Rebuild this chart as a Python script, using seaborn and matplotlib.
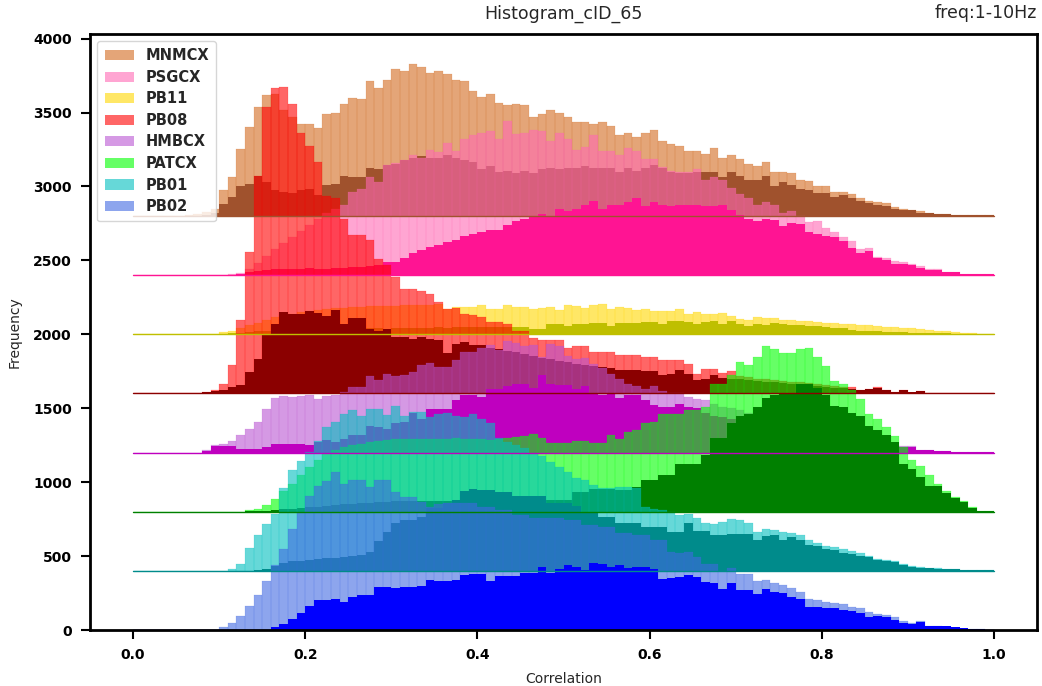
import matplotlib
matplotlib.use("Agg")
import numpy as np
import pandas as pd
import seaborn as sns
import matplotlib.pyplot as plt
import matplotlib.transforms as mtransforms
from matplotlib.patches import Patch

# ---------------- data (counts per 0.01-wide bin, 0..1) ----------------
stations = ["MNMCX", "PSGCX", "PB11", "PB08", "HMBCX", "PATCX", "PB01", "PB02"]
light_colors = ["chocolate", "hotpink", "gold", "red", "mediumorchid", "lime", "c", "royalblue"]
dark_colors = ["sienna", "deeppink", "y", "darkred", "m", "green", "darkcyan", "blue"]
offsets = [2800, 2400, 2000, 1600, 1200, 800, 400, 0]

mnmcx_all = [0,0,0,0,0,0,5,12,25,50,
             173,263,454,600,741,822,826,714,668,624,
             624,597,687,698,759,799,793,916,867,923,
             995,984,1029,1011,968,984,961,921,916,849,
             804,826,768,754,761,748,673,687,720,696,
             673,639,639,626,639,612,545,565,538,565,
             579,511,484,477,437,437,423,457,396,416,
             383,349,336,363,295,295,288,241,234,200,
             200,166,166,146,119,105,92,85,58,45,
             38,31,24,11,11,4,4,4,4,4]
mnmcx_sel = [0,0,0,0,0,0,0,0,5,20,
             83,132,200,218,274,230,178,166,157,178,
             185,140,207,218,274,263,263,326,315,342,
             353,376,391,403,394,394,410,390,376,365,
             320,336,295,308,288,308,288,315,328,315,
             328,328,336,328,328,328,295,322,308,328,
             342,328,295,288,288,295,295,295,261,295,
             274,241,241,268,200,227,213,186,173,153,
             153,126,140,119,105,85,78,65,51,38,
             38,24,18,11,11,4,4,4,4,4]
psgcx_all = [0,0,0,0,0,0,0,0,0,0,
             0,5,15,40,80,130,180,220,260,300,
             340,380,420,450,472,566,580,663,630,742,
             760,780,810,791,848,832,893,843,918,951,
             963,972,924,1046,958,965,979,972,911,965,
             924,850,870,951,843,843,816,857,843,783,
             783,729,708,701,695,715,647,661,641,587,
             546,519,472,492,478,424,431,400,357,364,
             316,289,255,228,174,181,120,113,93,86,
             73,59,39,39,19,19,5,5,5,5]
psgcx_sel = [0,0,0,0,0,0,0,0,0,0,
             0,3,10,20,30,35,40,45,45,45,
             50,45,45,50,50,55,55,60,70,89,
             89,117,149,172,190,201,224,240,262,280,
             290,303,303,337,364,377,397,411,397,445,
             431,451,472,505,451,472,472,492,519,465,
             492,478,465,472,478,478,465,465,472,438,
             404,377,364,377,370,330,350,343,289,282,
             262,255,228,181,147,161,113,100,79,79,
             66,52,32,32,19,19,5,5,5,5]
pb11_all = [0,0,0,0,0,0,0,0,0,5,
            15,22,40,60,80,100,115,130,140,150,
            160,165,170,175,180,185,185,190,190,195,
            195,200,200,200,200,203,169,185,185,185,
            196,174,174,196,185,185,169,177,185,162,
            196,190,177,196,203,174,185,177,165,174,
            155,155,155,169,140,149,140,135,142,122,
            106,95,117,108,110,100,95,92,88,85,
            80,76,72,68,64,60,56,52,48,44,
            40,35,30,25,20,15,10,6,3,1]
pb11_sel = [0,0,0,0,0,0,0,0,0,0,
            5,8,12,16,20,24,28,30,32,34,
            36,36,38,38,40,40,40,42,40,39,
            42,40,44,42,45,49,46,50,49,49,
            49,49,49,49,49,49,38,38,68,68,
            56,68,68,77,77,53,77,77,77,81,
            81,72,88,88,81,72,81,88,72,88,
            68,56,72,63,77,70,65,60,58,55,
            50,45,40,30,25,22,20,18,15,13,
            10,9,8,7,6,5,4,3,2,2]
pb08_all = [0,0,0,0,0,0,0,0,8,22,
            67,190,494,956,1474,1936,2065,2071,1956,1760,
            1677,1565,1339,1323,1182,1069,1069,1035,911,866,
            787,709,704,690,675,620,574,581,540,528,
            517,481,481,472,423,423,373,359,359,359,
            310,319,319,281,281,281,258,258,258,247,
            247,224,224,224,201,134,163,163,136,150,
            120,110,100,95,90,85,80,75,70,62,
            55,50,46,42,22,30,42,25,10,22,
            5,15,3,3,3,3,3,3,3,3]
pb08_sel = [0,0,0,0,0,0,0,0,8,19,
            22,45,56,146,231,400,468,551,540,535,
            555,544,522,562,468,510,510,434,423,439,
            382,382,371,382,366,359,274,332,345,326,
            326,310,300,290,280,270,255,240,230,220,
            210,200,195,185,180,172,157,157,157,150,
            150,123,134,157,134,89,96,123,105,100,
            95,90,85,80,75,70,65,60,55,50,
            45,40,35,29,22,29,40,22,13,22,
            8,15,2,2,2,2,2,2,2,2]
hmbcx_all = [0,0,0,0,0,0,0,0,16,50,
             57,77,118,158,205,293,367,381,374,381,
             388,361,381,388,410,445,445,519,489,534,
             519,525,546,590,606,579,579,629,681,681,
             710,726,695,752,743,720,726,647,732,719,
             651,631,640,601,572,534,496,467,449,433,
             449,419,401,401,377,365,356,330,310,300,
             290,270,250,240,220,200,180,165,150,140,
             125,115,100,90,80,70,60,55,50,43,
             43,16,16,12,12,5,5,5,5,5]
hmbcx_sel = [0,0,0,0,0,0,0,0,11,43,
             43,43,23,23,23,36,57,57,57,61,
             50,72,84,72,90,118,118,178,174,163,
             200,208,268,230,298,298,298,354,388,388,
             377,429,429,451,467,467,438,526,467,456,
             456,433,449,401,388,401,372,388,388,354,
             320,309,309,327,309,300,265,250,240,225,
             210,195,180,165,150,140,130,120,110,100,
             90,80,72,65,58,50,45,40,39,39,
             39,16,16,12,12,5,5,5,5,5]
patcx_all = [0,0,0,0,0,0,0,0,0,0,
             0,0,0,11,18,45,85,139,187,247,
             304,349,398,420,440,450,460,470,480,485,
             490,490,495,490,495,490,495,500,495,490,
             490,485,490,500,505,510,524,500,468,468,
             468,477,477,468,468,518,495,540,551,601,
             608,659,659,659,686,686,709,867,867,923,
             1011,991,1045,1119,1099,1072,1072,1099,1105,1045,
             984,882,862,822,761,659,626,572,511,435,
             349,308,247,187,137,101,70,30,6,3]
patcx_sel = [0,0,0,0,0,0,0,0,0,0,
             0,0,0,3,5,8,12,16,20,25,
             30,35,40,45,50,55,60,62,65,68,
             70,70,72,72,75,75,75,78,78,78,
             78,78,78,78,78,78,78,78,78,78,
             78,135,135,157,157,157,145,145,170,214,
             214,247,247,326,326,326,382,500,500,601,
             646,659,707,768,788,800,800,862,862,837,
             788,714,707,668,646,578,551,518,470,322,
             288,236,173,173,128,94,67,27,6,3]
pb01_all = [0,0,0,0,0,0,0,0,0,0,
            0,10,46,152,242,316,388,560,682,742,
            803,880,974,1008,1064,1087,1046,1098,1098,1053,
            1114,1050,1075,1075,1041,1060,1070,1050,1040,1060,
            1030,1000,900,870,850,830,800,780,735,700,
            668,627,614,580,563,563,568,568,560,430,
            420,411,400,378,385,360,322,315,333,349,
            342,326,266,284,277,266,259,243,209,187,
            171,160,147,134,122,100,78,73,64,44,
            32,24,19,17,12,12,5,5,5,5]
pb01_sel = [0,0,0,0,0,0,0,0,0,0,
            0,0,0,0,5,10,30,50,64,70,
            74,80,85,90,94,100,110,130,200,264,
            321,343,343,366,427,427,456,478,540,557,
            550,550,535,535,505,505,505,505,456,456,
            456,438,400,400,366,366,321,321,321,298,
            298,298,264,264,321,269,269,242,242,249,
            249,249,208,235,242,208,226,208,174,168,
            149,140,122,113,104,91,73,66,59,39,
            28,21,17,12,10,10,5,5,5,5]
pb02_all = [0,0,0,0,0,0,0,0,0,0,
            18,45,95,162,236,331,440,551,686,799,
            906,973,1007,1070,987,1014,1014,969,1014,1014,
            935,901,901,867,829,850,860,860,861,861,
            829,829,811,811,777,777,761,761,755,755,
            743,743,709,709,698,698,653,653,642,642,
            608,608,529,518,527,491,446,446,401,417,
            378,378,331,338,315,304,281,259,209,203,
            191,180,173,158,146,119,106,101,90,61,
            45,61,29,29,23,16,9,7,5,2]
pb02_sel = [0,0,0,0,0,0,0,0,0,0,
            0,0,0,0,0,3,18,41,74,117,
            162,203,203,209,191,225,236,236,293,291,
            286,293,293,300,338,333,333,338,372,378,
            378,331,365,365,365,383,387,428,387,410,
            439,428,405,450,446,428,439,417,428,423,
            412,345,351,360,372,357,324,315,277,315,
            270,270,243,275,257,248,225,209,158,153,
            146,146,135,128,117,86,95,90,68,50,
            38,56,27,27,27,20,14,7,7,2]

all_counts = [mnmcx_all, psgcx_all, pb11_all, pb08_all, hmbcx_all, patcx_all, pb01_all, pb02_all]
sel_counts = [mnmcx_sel, psgcx_sel, pb11_sel, pb08_sel, hmbcx_sel, patcx_sel, pb01_sel, pb02_sel]

xticks = [0.0, 0.2, 0.4, 0.6, 0.8, 1.0]
yticks = [0, 500, 1000, 1500, 2000, 2500, 3000, 3500, 4000]

# ---------------- plot ----------------
sns.set_style("ticks")
plt.rcParams['font.family'] = ['DejaVu Sans']

bin_edges = [round(i * 0.01, 2) for i in range(101)]
centers = [round(i * 0.01 + 0.005, 3) for i in range(100)]

fig, ax = plt.subplots(figsize=(10.42, 6.86), dpi=100)
fig.subplots_adjust(left=0.0864, right=0.9952, bottom=0.0816, top=0.951)

for name, lc, dc, off, av, sv in zip(stations, light_colors, dark_colors, offsets,
                                      all_counts, sel_counts):
    tr = mtransforms.Affine2D().translate(0, off) + ax.transData
    df = pd.DataFrame({"corr": centers, "all": av, "sel": sv})
    # all events: translucent fill
    sns.histplot(data=df, x="corr", weights="all", bins=bin_edges, color=lc,
                 alpha=0.6, edgecolor='none', linewidth=0, antialiased=False,
                 ax=ax, transform=tr)
    # very thin bar outlines of the translucent histogram
    sns.histplot(data=df, x="corr", weights="all", bins=bin_edges, color=lc,
                 fill=False, alpha=0.5, linewidth=0.2, ax=ax, transform=tr)
    # selected events: opaque fill
    sns.histplot(data=df, x="corr", weights="sel", bins=bin_edges, color=dc,
                 alpha=1.0, edgecolor='none', linewidth=0, antialiased=False,
                 ax=ax, transform=tr)
    ax.plot([0, 1], [off, off], color=dc, lw=1.0)

ax.set_xlim(-0.05, 1.05)
ax.set_ylim(0, 4034)
ax.set_xticks(xticks)
ax.set_yticks(yticks)
ax.set_xticklabels([f"{t:.1f}" for t in xticks], fontweight='bold', fontsize=10)
ax.set_yticklabels([str(t) for t in yticks], fontweight='bold', fontsize=10)
ax.set_xlabel("Correlation", fontsize=10, labelpad=7)
ax.set_ylabel("Frequency", fontsize=10, labelpad=8)
ax.set_title("Histogram_cID_65", fontsize=12.5, pad=11)
ax.set_title("freq:1-10Hz", loc='right', fontsize=12.5, pad=11)

for sp in ax.spines.values():
    sp.set_linewidth(2)
    sp.set_color('black')
ax.tick_params(axis='both', width=1.5, length=6.5, pad=6.5, color='black', labelcolor='black')

handles = [Patch(facecolor=lc, alpha=0.6, edgecolor='none') for lc in light_colors]
ax.legend(handles, stations, loc='upper left', prop={'weight': 'bold', 'size': 10.5},
          handlelength=2.0, labelspacing=0.45, borderpad=0.5)

fig.savefig("out.png", dpi=100)
